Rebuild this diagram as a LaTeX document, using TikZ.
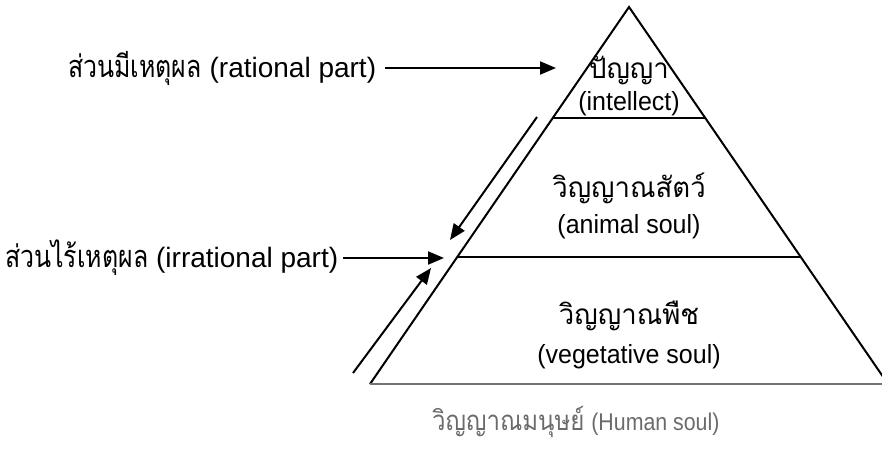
\documentclass[tikz,border=0pt]{standalone}
\usepackage{fontspec}
\setmainfont{Liberation Sans}
\newfontfamily\thaifont[Script=Thai]{Loma}
\usetikzlibrary{arrows.meta}
\newcommand\thaiside[1]{\scalebox{0.89}[1.1]{\thaifont #1}}
\newcommand\thaipyr[1]{\scalebox{1.1}[1.12]{\thaifont #1}}
\newcommand\latpyr[1]{\scalebox{1}[1.05]{#1}}
\begin{document}
\begin{tikzpicture}[x=1pt,y=-1pt,
  edge/.style={line width=2pt, black},
  arr/.style={line width=2pt,-{Triangle[length=16pt,width=13pt]}},
  side/.style={font=\fontsize{28}{30}\selectfont, inner sep=0pt, anchor=west},
  lbl/.style={font=\fontsize{25}{27}\selectfont, inner sep=0pt}]
\useasboundingbox (0,0) rectangle (882,450);
\clip (0,0) rectangle (882,450);
% pyramid
\coordinate (A) at (629,7);
\coordinate (BL) at (370,384);
\coordinate (BR) at (888,384);
\draw[edge, line join=miter] (BL) -- (A) -- (BR);
\draw[line width=2pt, black!55] (BL) -- (BR);
\path (A) -- (BL) coordinate[pos=0.2944] (L1) coordinate[pos=0.6631] (L2);
\path (A) -- (BR) coordinate[pos=0.2944] (R1) coordinate[pos=0.6631] (R2);
\draw[edge] (L1) -- (R1);
\draw[edge] (L2) -- (R2);
% pyramid labels
\node[lbl] (t1) at (629,70) {\thaipyr{ปัญญา}};
\node[lbl] (e1) at (629,104) {\latpyr{(intellect)}};
\node[lbl] (t2) at (629,188) {\thaipyr{วิญญาณสัตว์}};
\node[lbl] (e2) at (629,227) {\latpyr{(animal soul)}};
\node[lbl] (t3) at (629,316) {\thaipyr{วิญญาณพืช}};
\node[lbl] (e3) at (629,357) {\latpyr{(vegetative soul)}};
\node[lbl, text=black!58, anchor=west] (hs) at (432,422) {{\fontsize{24}{26}\selectfont\scalebox{1}[1.15]{\thaifont วิญญาณมนุษย์}} \fontsize{22}{24}\selectfont\scalebox{0.97}[1.1]{(Human soul)}};
% side labels
\node[side] (rat) at (68,68) {\thaiside{ส่วนมีเหตุผล} (rational part)};
\node[side] (irr) at (5,258) {\thaiside{ส่วนไร้เหตุผล} (irrational part)};
\coordinate (ratT) at (556,68);
\coordinate (irrT) at (444,258);
\draw[arr] ([xshift=9pt]rat.east) -- (ratT);
\draw[arr] ([xshift=5pt]irr.east) -- (irrT);
% parallel arrows along the left side
\coordinate (dS) at (537,117);
\coordinate (dT) at (450,240);
\coordinate (uS) at (353,373);
\coordinate (uT) at (431,268);
\draw[arr] (dS) -- (dT);
\draw[arr] (uS) -- (uT);
\end{tikzpicture}
\end{document}
